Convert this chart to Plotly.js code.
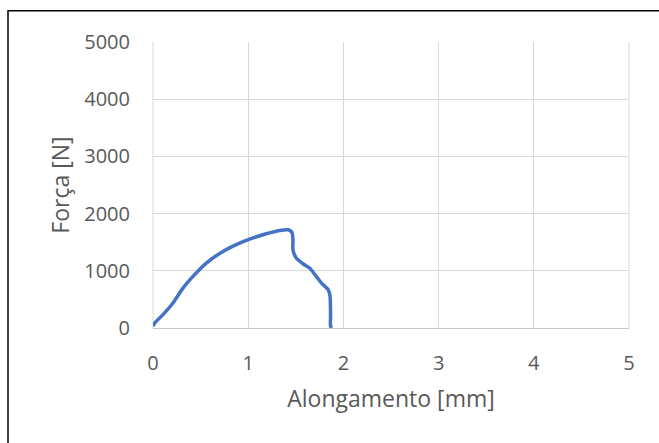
<!DOCTYPE html>
<html><head><meta charset="utf-8">
<script src="https://cdn.plot.ly/plotly-3.0.1.min.js"></script>
<style>html,body{margin:0;padding:0;background:#fff;}#chart{width:659px;height:443px;}</style>
</head><body><div id="chart"></div>
<script>
const alongamento = [0, 0.018, 0.105, 0.21, 0.315, 0.42, 0.56, 0.735, 0.91, 1.015, 1.19, 1.33, 1.42, 1.46, 1.47, 1.47, 1.505, 1.575, 1.645, 1.715, 1.77, 1.84, 1.86, 1.865, 1.865, 1.88];
const forca = [29, 87, 233, 437, 698, 902, 1135, 1339, 1484, 1554, 1647, 1705, 1717, 1670, 1542, 1368, 1222, 1123, 1048, 902, 786, 669, 553, 204, 29, 0];
const xTicks = [0, 1, 2, 3, 4, 5];
const yTicks = [0, 1000, 2000, 3000, 4000, 5000];

const trace = {
  x: alongamento, y: forca, type: 'scatter', mode: 'lines',
  line: {color: '#4472C4', width: 3.5, shape: 'spline', smoothing: 0.6},
  hoverinfo: 'skip'
};
const fontFam = '"Open Sans", "Liberation Sans", sans-serif';
const layout = {
  width: 659, height: 443,
  margin: {l: 153, r: 30, t: 42, b: 115},
  paper_bgcolor: '#fff', plot_bgcolor: '#fff',
  showlegend: false,
  font: {family: fontFam, color: '#595959', size: 20},
  xaxis: {
    range: [0, 5], tickvals: xTicks, ticktext: xTicks.map(String),
    showgrid: true, gridcolor: '#d9d9d9', gridwidth: 1,
    zeroline: false, showline: true, linecolor: '#c8c8c8', linewidth: 1, mirror: false,
    ticks: '', ticklabelstandoff: 17,
    tickfont: {size: 20, color: '#595959', family: fontFam},
    title: {text: 'Alongamento [mm]', font: {size: 23, color: '#595959', family: fontFam}, standoff: 15}
  },
  yaxis: {
    range: [0, 5000], tickvals: yTicks, ticktext: yTicks.map(String),
    showgrid: true, gridcolor: '#d9d9d9', gridwidth: 1,
    zeroline: false, showline: false,
    ticks: '', ticklabelstandoff: 22,
    tickfont: {size: 20, color: '#595959', family: fontFam},
    title: {text: 'Força [N]', font: {size: 23, color: '#595959', family: fontFam}, standoff: 8}
  },
  shapes: [
    {type: 'rect', xref: 'paper', yref: 'paper', x0: -0.3046, x1: 1.08, y0: -0.42, y1: 1.109,
     line: {color: '#000', width: 1.5}, fillcolor: 'rgba(0,0,0,0)', layer: 'below'},
    {type: 'line', xref: 'paper', yref: 'paper', x0: 0, x1: 0, y0: 0, y1: 1,
     line: {color: '#d9d9d9', width: 1}, layer: 'below'},
    {type: 'line', xref: 'paper', yref: 'paper', x0: 1, x1: 1, y0: 0, y1: 1,
     line: {color: '#d9d9d9', width: 1}, layer: 'below'}
  ]
};
Plotly.newPlot('chart', [trace], layout, {displayModeBar: false, staticPlot: true});
</script></body></html>
